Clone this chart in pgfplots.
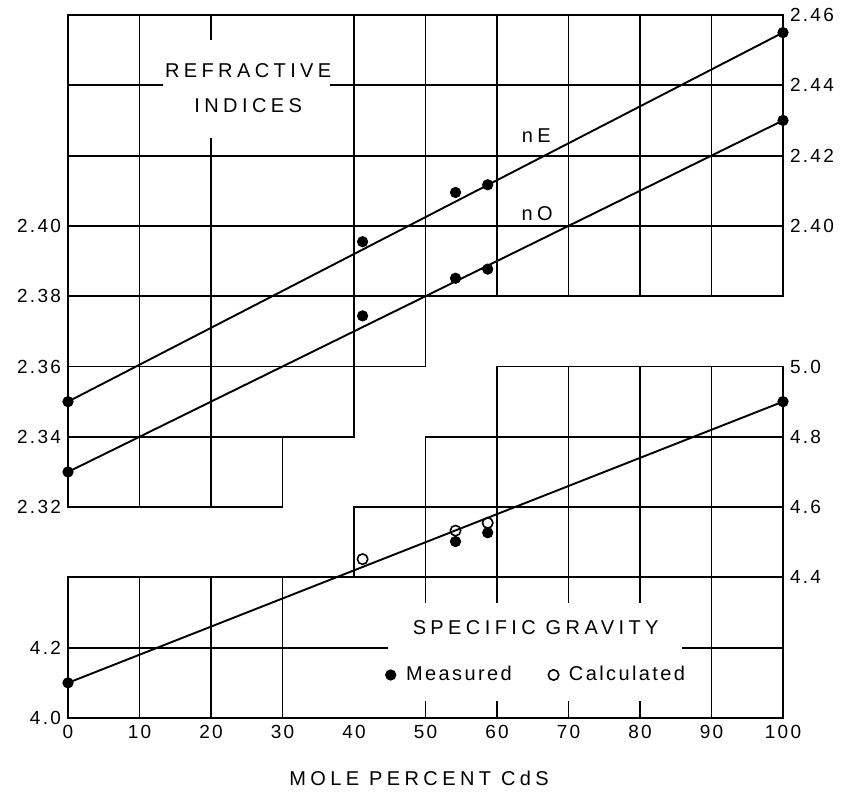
\documentclass[border=0pt]{standalone}
\usepackage{pgfplots}
\pgfplotsset{compat=1.18}
\usepackage{pgfplotstable}
\usepackage{fontspec}
\setmainfont{Liberation Sans}[LetterSpace=12]
\newfontfamily\spaced{Liberation Sans}[LetterSpace=22]

% Refractive index data (mole percent CdS, index)
\pgfplotstableread{
x    y
0    2.350
41.2 2.3955
54.2 2.4095
58.7 2.4117
100  2.455
}\nEdata
\pgfplotstableread{
x    y
0    2.330
41.2 2.3744
54.2 2.3851
58.7 2.3877
100  2.430
}\nOdata
% Specific gravity
\pgfplotstableread{
x    y
0    4.10
54.2 4.502
58.7 4.527
100  4.90
}\SGmeas
\pgfplotstableread{
x    y
41.2 4.452
54.2 4.533
58.7 4.555
}\SGcalc

\pgfplotsset{
  base/.style={
    scale only axis, width=357.5pt, height=351.5pt,
    at={(0,0)}, anchor=south west,
    xmin=0, xmax=100, clip=false,
    axis line style={draw=none},
    major tick length=0pt,
    tick label style={font=\fontsize{9.5}{11}\selectfont},
    /pgf/number format/assume math mode=true,
  },
  ri/.style={base, ymin=2.26, ymax=2.46,
    yticklabel style={/pgf/number format/.cd, fixed, fixed zerofill, precision=2}},
  sg/.style={base, ymin=4.0, ymax=6.0,
    yticklabel style={/pgf/number format/.cd, fixed, fixed zerofill, precision=1}},
}
\tikzset{gl/.style={black, line width=0.95pt}}

\begin{document}
\begin{tikzpicture}
% ---------------- Refractive indices, left scale ----------------
\begin{axis}[ri,
  xtick={0,10,20,30,40,50,60,70,80,90,100},
  ytick={2.32,2.34,2.36,2.38,2.40},
  xlabel={\spaced\fontsize{10}{12}\selectfont MOLE PERCENT CdS},
  xlabel style={at={(axis description cs:0.491,-0.0853)}, anchor=center},
]
  % grid of the upper region
  \draw[gl] (axis cs:0,2.46) -- (axis cs:100,2.46) -- (axis cs:100,2.38) -- (axis cs:50,2.38)
     -- (axis cs:50,2.36) -- (axis cs:40,2.36) -- (axis cs:40,2.34) -- (axis cs:30,2.34)
     -- (axis cs:30,2.32) -- (axis cs:0,2.32) -- cycle;
  \draw[gl] (axis cs:0,2.44) -- (axis cs:100,2.44);
  \draw[gl] (axis cs:0,2.42) -- (axis cs:100,2.42);
  \draw[gl] (axis cs:0,2.40) -- (axis cs:100,2.40);
  \draw[gl] (axis cs:0,2.38) -- (axis cs:50,2.38);
  \draw[gl] (axis cs:0,2.36) -- (axis cs:40,2.36);
  \draw[gl] (axis cs:0,2.34) -- (axis cs:30,2.34);
  \draw[gl] (axis cs:10,2.32) -- (axis cs:10,2.46);
  \draw[gl] (axis cs:20,2.32) -- (axis cs:20,2.46);
  \draw[gl] (axis cs:40,2.34) -- (axis cs:40,2.46);
  \draw[gl] (axis cs:50,2.36) -- (axis cs:50,2.46);
  \draw[gl] (axis cs:60,2.38) -- (axis cs:60,2.46);
  \draw[gl] (axis cs:70,2.38) -- (axis cs:70,2.46);
  \draw[gl] (axis cs:80,2.38) -- (axis cs:80,2.46);
  \draw[gl] (axis cs:90,2.38) -- (axis cs:90,2.46);
  \fill[white] (axis cs:13.3,2.4251) rectangle (axis cs:36.6,2.4529);
  \node[font=\spaced\fontsize{10}{12}\selectfont] at (axis cs:25.2,2.4443) {REFRACTIVE};
  \node[font=\spaced\fontsize{10}{12}\selectfont] at (axis cs:25.2,2.4343) {INDICES};
  \node[font=\spaced\fontsize{10}{12}\selectfont] at (axis cs:65.5,2.4257) {nE};
  \node[font=\spaced\fontsize{10}{12}\selectfont] at (axis cs:65.6,2.4034) {nO};
  % fitted lines
  \addplot[gl] coordinates {(0,2.350) (100,2.455)};
  \addplot[gl] coordinates {(0,2.330) (100,2.430)};
  % measured points
  \addplot[only marks, mark=*, mark size=2.6pt, black] table[x=x,y=y] {\nEdata};
  \addplot[only marks, mark=*, mark size=2.6pt, black] table[x=x,y=y] {\nOdata};
\end{axis}
% ---------------- Refractive indices, right scale ----------------
\begin{axis}[ri, xtick=\empty, ytick={2.40,2.42,2.44,2.46}, yticklabel pos=right]
\end{axis}
% ---------------- Specific gravity, left scale ----------------
\begin{axis}[sg, xtick=\empty, ytick={4.0,4.2},
  legend style={draw=none, fill=none, at={(0.656,0.0612)}, anchor=center,
    legend columns=2, font=\fontsize{10}{12}\selectfont,
    /tikz/every even column/.append style={column sep=16pt}},
  legend image code/.code={\draw[#1] plot coordinates {(0cm,0cm)};
    \path[draw=none, fill=none] (-0.1cm,0cm) -- (0.2cm,0cm);},
]
  \draw[gl] (axis cs:0,4.0) -- (axis cs:100,4.0) -- (axis cs:100,5.0) -- (axis cs:60,5.0)
     -- (axis cs:60,4.8) -- (axis cs:50,4.8) -- (axis cs:50,4.6) -- (axis cs:40,4.6)
     -- (axis cs:40,4.4) -- (axis cs:0,4.4) -- cycle;
  \draw[gl] (axis cs:0,4.2) -- (axis cs:100,4.2);
  \draw[gl] (axis cs:40,4.4) -- (axis cs:100,4.4);
  \draw[gl] (axis cs:50,4.6) -- (axis cs:100,4.6);
  \draw[gl] (axis cs:60,4.8) -- (axis cs:100,4.8);
  \draw[gl] (axis cs:10,4.0) -- (axis cs:10,4.4);
  \draw[gl] (axis cs:20,4.0) -- (axis cs:20,4.4);
  \draw[gl] (axis cs:30,4.0) -- (axis cs:30,4.4);
  \draw[gl] (axis cs:50,4.0) -- (axis cs:50,4.8);
  \draw[gl] (axis cs:60,4.0) -- (axis cs:60,5.0);
  \draw[gl] (axis cs:70,4.0) -- (axis cs:70,5.0);
  \draw[gl] (axis cs:80,4.0) -- (axis cs:80,5.0);
  \draw[gl] (axis cs:90,4.0) -- (axis cs:90,5.0);
  \fill[white] (axis cs:44.8,4.049) rectangle (axis cs:85.9,4.326);
  \node[font=\spaced\fontsize{10}{12}\selectfont] at (axis cs:65.4,4.257) {SPECIFIC GRAVITY};
  \addplot[gl, forget plot] coordinates {(0,4.10) (100,4.90)};
  \addplot[only marks, mark=*, mark size=2.6pt, black] table[x=x,y=y] {\SGmeas};
  \addplot[only marks, mark=o, mark size=2.6pt, black, line width=0.8pt,
    mark options={fill=white}] table[x=x,y=y] {\SGcalc};
  \legend{Measured, Calculated}
\end{axis}
% ---------------- Specific gravity, right scale ----------------
\begin{axis}[sg, xtick=\empty, ytick={4.4,4.6,4.8,5.0}, yticklabel pos=right]
\end{axis}
\pgfresetboundingbox
\path[use as bounding box] (-34pt,-37pt) rectangle (391.5pt,359pt);
\end{tikzpicture}
\end{document}
